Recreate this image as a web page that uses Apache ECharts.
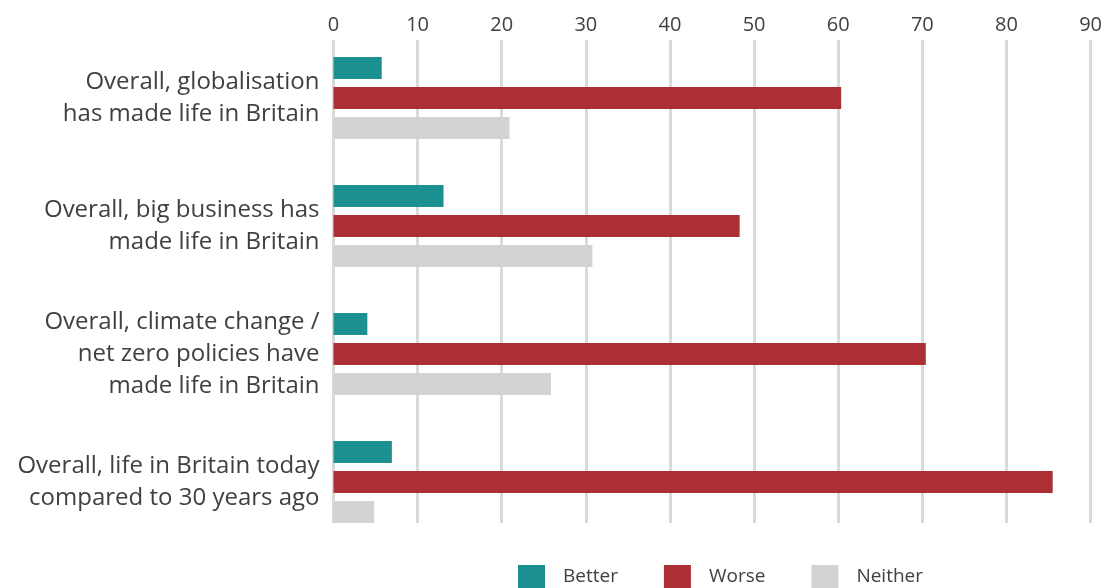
<!DOCTYPE html>
<html><head><meta charset="utf-8">
<script src="https://cdn.jsdelivr.net/npm/echarts@6/dist/echarts.min.js"></script>
<style>html,body{margin:0;padding:0;background:#fff}#c{width:1105px;height:588px}</style>
</head><body><div id="c"></div>
<script>
const categories = [
  "Overall, globalisation\nhas made life in Britain",
  "Overall, big business has\nmade life in Britain",
  "Overall, climate change /\nnet zero policies have\nmade life in Britain",
  "Overall, life in Britain today\ncompared to 30 years ago"
];
const better = [5.7, 13, 4, 6.9];
const worse = [60, 48, 70, 85];
const neither = [20.8, 30.6, 25.7, 4.8];
const xTicks = [0, 10, 20, 30, 40, 50, 60, 70, 80, 90];

const FONT = "Open Sans";
const chart = echarts.init(document.getElementById('c'));
chart.setOption({
  animation: false,
  textStyle: {fontFamily: FONT},
  grid: [
    {left: 333.5, right: 10, top: 34, height: 512},
    {left: 333.5, right: 10, top: 40, height: 483}
  ],
  legend: {
    left: 518, top: 565, padding: 0, itemWidth: 27, itemHeight: 24, itemGap: 46, icon: 'rect',
    textStyle: {fontSize: 19, color: '#404040', fontFamily: FONT, padding: [0, 0, 0, 13]},
    data: ['Better', 'Worse', 'Neither']
  },
  xAxis: [
    {gridIndex: 0, type: 'value', min: 0, max: 90, interval: 10, show: false},
    {gridIndex: 1, type: 'value', min: 0, max: 90, interval: 10, position: 'top',
     axisLine: {show: false}, axisTick: {show: false},
     axisLabel: {fontSize: 20, color: '#404040', margin: 5, fontFamily: FONT,
       formatter: v => xTicks.includes(v) ? String(v) : ''},
     splitLine: {show: true, lineStyle: {color: '#d9d9d9', width: 3}}}
  ],
  yAxis: [
    {gridIndex: 0, type: 'category', data: categories, inverse: true,
     axisLine: {show: false}, axisTick: {show: false},
     axisLabel: {fontSize: 24, color: '#404040', lineHeight: 32, margin: 14, align: 'right', fontFamily: FONT}},
    {gridIndex: 1, type: 'value', min: 0, max: 1, show: false}
  ],
  series: [
    {name: 'Better', type: 'bar', data: better, barWidth: 22, barGap: '36%', itemStyle: {color: '#1a9190'}},
    {name: 'Worse', type: 'bar', data: worse, barWidth: 22, barGap: '36%', itemStyle: {color: '#ab2f33'}},
    {name: 'Neither', type: 'bar', data: neither, barWidth: 22, barGap: '36%', itemStyle: {color: '#d3d3d3'}}
  ]
});
</script></body></html>
